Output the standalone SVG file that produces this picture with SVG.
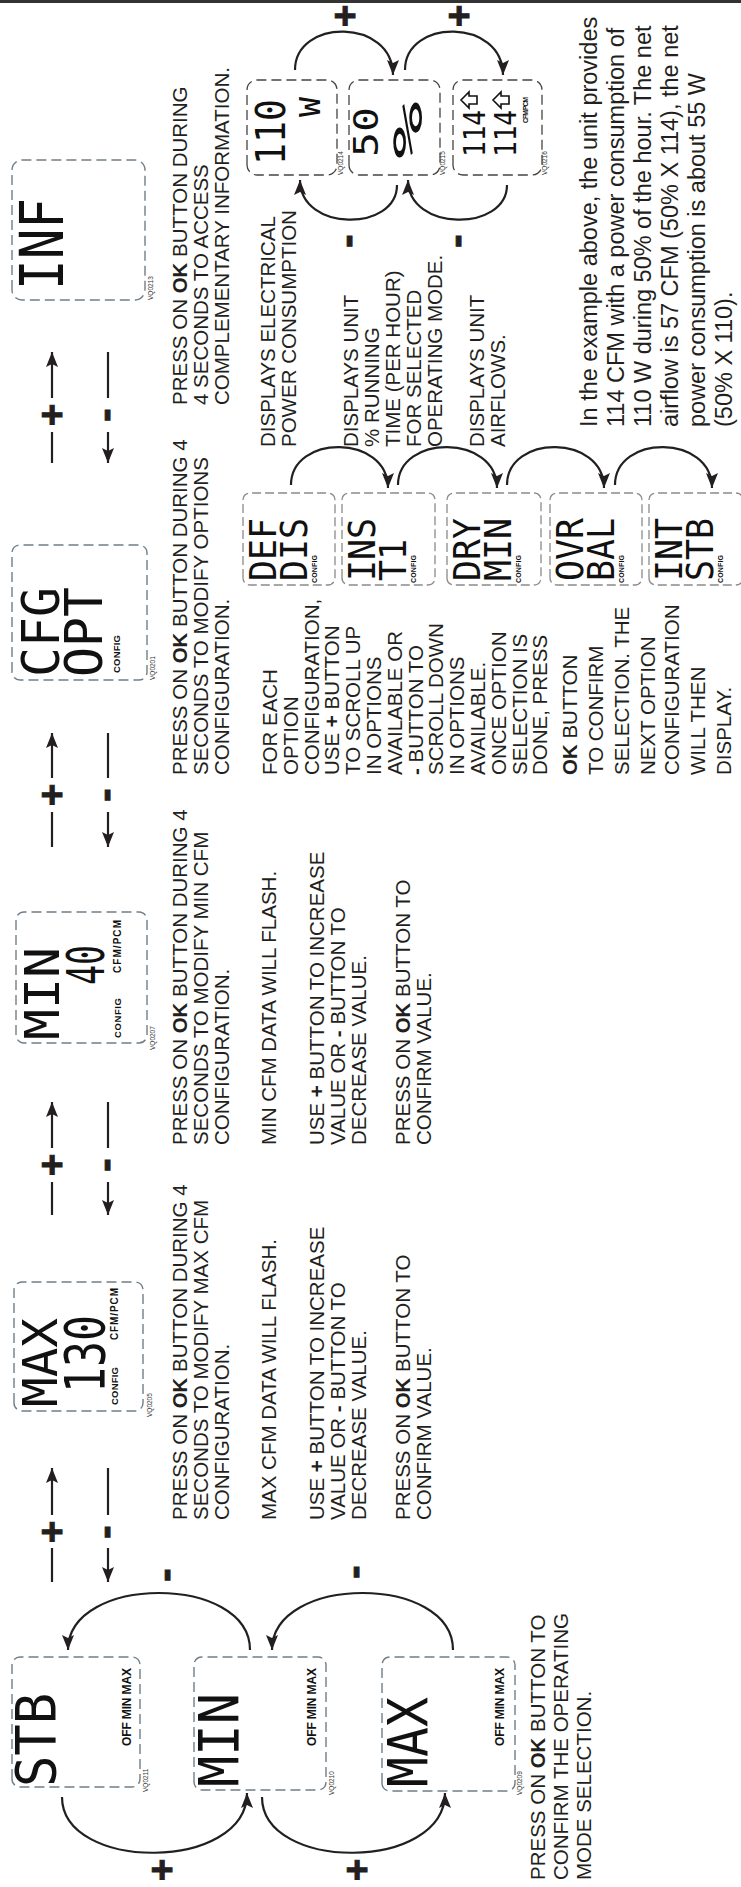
<svg xmlns="http://www.w3.org/2000/svg" width="741" height="1887" viewBox="0 0 741 1887">
<style>
.t{font-family:"Liberation Sans",Arial,sans-serif;font-size:20.5px;fill:#231f20}
.e{font-family:"Liberation Sans",Arial,sans-serif;font-size:23.5px;fill:#231f20}
.b{font-weight:bold}
.lcd{font-family:"DejaVu Sans Mono",monospace;fill:#111}
.sm{font-family:"Liberation Sans",Arial,sans-serif;font-weight:bold;fill:#111}
.vq{font-family:"Liberation Sans",Arial,sans-serif;font-size:6.5px;fill:#333}
.mb{fill:none;stroke:#6f7e88;stroke-width:1.4;stroke-dasharray:10 5}
.ib{fill:none;stroke:#444;stroke-width:1.3;stroke-dasharray:10 5}
.ob{fill:none;stroke:#8a8a8a;stroke-width:1.3;stroke-dasharray:9 4}
.pl{font-family:"Liberation Sans",Arial,sans-serif;font-weight:bold;font-size:38px;fill:#231f20;stroke:#231f20;stroke-width:1;text-anchor:middle}
.mi{font-family:"Liberation Sans",Arial,sans-serif;font-weight:bold;font-size:40px;fill:#231f20;stroke:#231f20;stroke-width:1;text-anchor:middle}
</style>
<defs>
<marker id="ah" markerUnits="userSpaceOnUse" markerWidth="16" markerHeight="12" refX="15" refY="6" orient="auto"><path d="M0,0 L15,6 L0,12 L3,6 Z" fill="#231f20"/></marker>
</defs>
<rect x="0" y="0" width="741" height="3" fill="#333"/>

<g id="connectors" fill="none" stroke="#231f20" stroke-width="2.2">
<path d="M52,1582 L52,1548 M52,1515 L52,1468" marker-end="url(#ah)"/>
<path d="M108,1468 L108,1515 M108,1548 L108,1582" marker-end="url(#ah)"/>
<path d="M52,1215 L52,1182 M52,1148 L52,1102" marker-end="url(#ah)"/>
<path d="M108,1102 L108,1148 M108,1182 L108,1215" marker-end="url(#ah)"/>
<path d="M52,847 L52,812 M52,778 L52,733" marker-end="url(#ah)"/>
<path d="M108,733 L108,778 M108,812 L108,847" marker-end="url(#ah)"/>
<path d="M52,463 L52,432 M52,398 L52,352" marker-end="url(#ah)"/>
<path d="M108,352 L108,398 M108,432 L108,463" marker-end="url(#ah)"/>
<path d="M250,1650 C250,1574 68,1574 68,1650" marker-end="url(#ah)"/>
<path d="M453,1650 C453,1574 272,1574 272,1650" marker-end="url(#ah)"/>
<path d="M62,1797 C62,1872 247,1872 247,1793" marker-end="url(#ah)"/>
<path d="M262,1797 C262,1872 445,1872 445,1793" marker-end="url(#ah)"/>
<path d="M295,70 C295,18 393,18 393,75" marker-end="url(#ah)"/>
<path d="M405,70 C405,18 503,18 503,75" marker-end="url(#ah)"/>
<path d="M397,185 C397,232 300,232 300,180" marker-end="url(#ah)"/>
<path d="M507,185 C507,232 408,232 408,180" marker-end="url(#ah)"/>
<path d="M291,485 C291,434 388,434 388,488" marker-end="url(#ah)"/>
<path d="M398,485 C398,434 497,434 497,488" marker-end="url(#ah)"/>
<path d="M507,485 C507,434 604,434 604,488" marker-end="url(#ah)"/>
<path d="M615,485 C615,434 712,434 712,488" marker-end="url(#ah)"/>
</g>

<g transform="translate(0 1887) rotate(-90)">
<g id="connector-labels">
<text class="pl" x="355" y="65">+</text><text class="mi" x="355" y="118">-</text>
<text class="pl" x="722" y="65">+</text><text class="mi" x="722" y="118">-</text>
<text class="pl" x="1092" y="65">+</text><text class="mi" x="1092" y="118">-</text>
<text class="pl" x="1472" y="65">+</text><text class="mi" x="1472" y="118">-</text>
<text class="pl" x="17" y="175">+</text><text class="pl" x="17" y="370">+</text>
<text class="mi" x="312" y="178">-</text><text class="mi" x="315" y="367">-</text>
<text class="pl" x="1871" y="358">+</text><text class="pl" x="1871" y="472">+</text>
<text class="mi" x="1646" y="360">-</text><text class="mi" x="1646" y="469">-</text>
</g>

<g id="mode-stb">
<rect class="mb" x="100" y="12" width="130" height="128" rx="8"/>
<text class="lcd" x="100" y="55" font-size="55" textLength="94" lengthAdjust="spacingAndGlyphs">STB</text>
<text class="sm" x="141" y="131" font-size="12" textLength="78">OFF MIN MAX</text>
<text class="vq" x="95" y="148">VQ0211</text>
</g>
<g id="mode-min">
<rect class="mb" x="97" y="194" width="133" height="132" rx="8"/>
<text class="lcd" x="100" y="238" font-size="55" textLength="94" lengthAdjust="spacingAndGlyphs">MIN</text>
<text class="sm" x="141" y="316" font-size="12" textLength="78">OFF MIN MAX</text>
<text class="vq" x="92" y="334">VQ0210</text>
</g>
<g id="mode-max">
<rect class="mb" x="96" y="382" width="134" height="133" rx="8"/>
<text class="lcd" x="100" y="427" font-size="55" textLength="90" lengthAdjust="spacingAndGlyphs">MAX</text>
<text class="sm" x="141" y="504" font-size="12" textLength="78">OFF MIN MAX</text>
<text class="vq" x="92" y="522">VQ0209</text>
</g>
<g id="mode-text">
<text class="t" x="7" y="545">PRESS ON <tspan class="b">OK</tspan> BUTTON TO</text>
<text class="t" x="7" y="568">CONFIRM THE OPERATING</text>
<text class="t" x="7" y="591">MODE SELECTION.</text>
</g>

<g id="config-max">
<rect class="mb" x="476" y="14" width="129" height="129" rx="8"/>
<text class="lcd" x="480" y="57" font-size="48" textLength="89" lengthAdjust="spacingAndGlyphs">MAX</text>
<text class="lcd" x="494" y="104" font-size="56" textLength="78" lengthAdjust="spacingAndGlyphs">130</text>
<text class="sm" x="482" y="118" font-size="9.5" textLength="38">CONFIG</text>
<text class="sm" x="547" y="118" font-size="10" textLength="52">CFM/PCM</text>
<text class="vq" x="470" y="152">VQ0205</text>
<text class="t" x="367" y="187">PRESS ON <tspan class="b">OK</tspan> BUTTON DURING 4</text>
<text class="t" x="367" y="208">SECONDS TO MODIFY MAX CFM</text>
<text class="t" x="367" y="229">CONFIGURATION.</text>
<text class="t" x="367" y="276">MAX CFM DATA WILL FLASH.</text>
<text class="t" x="367" y="324">USE <tspan class="b">+</tspan> BUTTON TO INCREASE</text>
<text class="t" x="367" y="345">VALUE OR <tspan class="b">-</tspan> BUTTON TO</text>
<text class="t" x="367" y="366">DECREASE VALUE.</text>
<text class="t" x="367" y="410">PRESS ON <tspan class="b">OK</tspan> BUTTON TO</text>
<text class="t" x="367" y="431">CONFIRM VALUE.</text>
</g>

<g id="config-min">
<rect class="mb" x="844" y="16" width="131" height="131" rx="8"/>
<text class="lcd" x="847" y="59" font-size="48" textLength="93" lengthAdjust="spacingAndGlyphs">MIN</text>
<text class="lcd" x="902" y="104" font-size="52" textLength="40" lengthAdjust="spacingAndGlyphs">40</text>
<text class="sm" x="849" y="121" font-size="9.5" textLength="40">CONFIG</text>
<text class="sm" x="914" y="121" font-size="10" textLength="53">CFM/PCM</text>
<text class="vq" x="837" y="155">VQ0207</text>
<text class="t" x="742" y="187">PRESS ON <tspan class="b">OK</tspan> BUTTON DURING 4</text>
<text class="t" x="742" y="208">SECONDS TO MODIFY MIN CFM</text>
<text class="t" x="742" y="229">CONFIGURATION.</text>
<text class="t" x="742" y="276">MIN CFM DATA WILL FLASH.</text>
<text class="t" x="742" y="324">USE <tspan class="b">+</tspan> BUTTON TO INCREASE</text>
<text class="t" x="742" y="345">VALUE OR <tspan class="b">-</tspan> BUTTON TO</text>
<text class="t" x="742" y="366">DECREASE VALUE.</text>
<text class="t" x="742" y="410">PRESS ON <tspan class="b">OK</tspan> BUTTON TO</text>
<text class="t" x="742" y="431">CONFIRM VALUE.</text>
</g>

<g id="config-options">
<rect class="mb" x="1207" y="12" width="135" height="135" rx="8"/>
<text class="lcd" x="1210" y="59" font-size="52" textLength="90" lengthAdjust="spacingAndGlyphs">CFG</text>
<text class="lcd" x="1210" y="102" font-size="52" textLength="90" lengthAdjust="spacingAndGlyphs">OPT</text>
<text class="sm" x="1214" y="120" font-size="9.5" textLength="38">CONFIG</text>
<text class="vq" x="1207" y="155">VQ0201</text>
<text class="t" x="1112" y="187">PRESS ON <tspan class="b">OK</tspan> BUTTON DURING 4</text>
<text class="t" x="1112" y="208">SECONDS TO MODIFY OPTIONS</text>
<text class="t" x="1112" y="229">CONFIGURATION.</text>
<text class="t" x="1112" y="277">FOR EACH</text>
<text class="t" x="1112" y="297.8">OPTION</text>
<text class="t" x="1112" y="318.6">CONFIGURATION,</text>
<text class="t" x="1112" y="339.4">USE <tspan class="b">+</tspan> BUTTON</text>
<text class="t" x="1112" y="360.2">TO SCROLL UP</text>
<text class="t" x="1112" y="381">IN OPTIONS</text>
<text class="t" x="1112" y="401.8">AVAILABLE OR</text>
<text class="t" x="1112" y="422.6"><tspan class="b">-</tspan> BUTTON TO</text>
<text class="t" x="1112" y="443.4">SCROLL DOWN</text>
<text class="t" x="1112" y="464.2">IN OPTIONS</text>
<text class="t" x="1112" y="485">AVAILABLE.</text>
<text class="t" x="1112" y="505.8">ONCE OPTION</text>
<text class="t" x="1112" y="526.6">SELECTION IS</text>
<text class="t" x="1112" y="547.4">DONE, PRESS</text>
<text class="t" x="1112" y="577"><tspan class="b">OK</tspan> BUTTON</text>
<text class="t" x="1112" y="603">TO CONFIRM</text>
<text class="t" x="1112" y="629">SELECTION. THE</text>
<text class="t" x="1112" y="655">NEXT OPTION</text>
<text class="t" x="1112" y="679">CONFIGURATION</text>
<text class="t" x="1112" y="705">WILL THEN</text>
<text class="t" x="1112" y="731">DISPLAY.</text>
</g>

<g id="opt-def">
<rect class="ob" x="1302" y="243" width="92" height="92" rx="7"/>
<text class="lcd" x="1306" y="276" font-size="38" textLength="63" lengthAdjust="spacingAndGlyphs">DEF</text>
<text class="lcd" x="1306" y="307" font-size="38" textLength="63" lengthAdjust="spacingAndGlyphs">DIS</text>
<text class="sm" x="1304" y="317" font-size="7" textLength="28">CONFIG</text>
</g>
<g id="opt-ins">
<rect class="ob" x="1302" y="342" width="92" height="93" rx="7"/>
<text class="lcd" x="1306" y="375" font-size="38" textLength="63" lengthAdjust="spacingAndGlyphs">INS</text>
<text class="lcd" x="1306" y="406" font-size="38" textLength="42" lengthAdjust="spacingAndGlyphs">T1</text>
<text class="sm" x="1304" y="416" font-size="7" textLength="28">CONFIG</text>
</g>
<g id="opt-dry">
<rect class="ob" x="1302" y="447" width="92" height="94" rx="7"/>
<text class="lcd" x="1306" y="480" font-size="38" textLength="63" lengthAdjust="spacingAndGlyphs">DRY</text>
<text class="lcd" x="1306" y="511" font-size="38" textLength="63" lengthAdjust="spacingAndGlyphs">MIN</text>
<text class="sm" x="1304" y="521" font-size="7" textLength="28">CONFIG</text>
</g>
<g id="opt-ovr">
<rect class="ob" x="1302" y="550" width="92" height="92" rx="7"/>
<text class="lcd" x="1306" y="583" font-size="38" textLength="63" lengthAdjust="spacingAndGlyphs">OVR</text>
<text class="lcd" x="1306" y="614" font-size="38" textLength="63" lengthAdjust="spacingAndGlyphs">BAL</text>
<text class="sm" x="1304" y="624" font-size="7" textLength="28">CONFIG</text>
</g>
<g id="opt-int">
<rect class="ob" x="1302" y="649" width="92" height="94" rx="7"/>
<text class="lcd" x="1306" y="682" font-size="38" textLength="63" lengthAdjust="spacingAndGlyphs">INT</text>
<text class="lcd" x="1306" y="713" font-size="38" textLength="63" lengthAdjust="spacingAndGlyphs">STB</text>
<text class="sm" x="1304" y="723" font-size="7" textLength="28">CONFIG</text>
</g>

<g id="info">
<rect class="mb" x="1587" y="12" width="140" height="133" rx="10"/>
<text class="lcd" x="1597" y="63" font-size="60" textLength="92" lengthAdjust="spacingAndGlyphs">INF</text>
<text class="vq" x="1587" y="153">VQ0213</text>
<text class="t" x="1482" y="187">PRESS ON <tspan class="b">OK</tspan> BUTTON DURING</text>
<text class="t" x="1482" y="208">4 SECONDS TO ACCESS</text>
<text class="t" x="1482" y="229">COMPLEMENTARY INFORMATION.</text>
<text class="t" x="1440" y="275">DISPLAYS ELECTRICAL</text>
<text class="t" x="1440" y="296">POWER CONSUMPTION</text>
<text class="t" x="1440" y="358">DISPLAYS UNIT</text>
<text class="t" x="1440" y="379">% RUNNING</text>
<text class="t" x="1440" y="400">TIME (PER HOUR)</text>
<text class="t" x="1440" y="421">FOR SELECTED</text>
<text class="t" x="1440" y="442">OPERATING MODE.</text>
<text class="t" x="1440" y="484">DISPLAYS UNIT</text>
<text class="t" x="1440" y="505">AIRFLOWS.</text>
</g>

<g id="info-power">
<rect class="ib" x="1712" y="247" width="95" height="90" rx="10"/>
<text class="lcd" x="1722" y="285" font-size="40" textLength="66" lengthAdjust="spacingAndGlyphs">110</text>
<text class="lcd" x="1770" y="320" font-size="28" textLength="20" lengthAdjust="spacingAndGlyphs">W</text>
<text class="vq" x="1712" y="343" font-size="5">VQ0214</text>
</g>
<g id="info-time">
<rect class="ib" x="1712" y="349" width="95" height="91" rx="10"/>
<text class="lcd" x="1730" y="378" font-size="34" textLength="50" lengthAdjust="spacingAndGlyphs">50</text>
<text class="lcd" x="1728" y="422" font-size="40" textLength="58" lengthAdjust="spacingAndGlyphs">%</text>
<text class="vq" x="1712" y="445" font-size="5">VQ0215</text>
</g>
<g id="info-airflow">
<rect class="ib" x="1712" y="453" width="95" height="89" rx="10"/>
<text class="lcd" x="1730" y="485" font-size="30" textLength="47" lengthAdjust="spacingAndGlyphs">114</text>
<text class="lcd" x="1730" y="516" font-size="30" textLength="47" lengthAdjust="spacingAndGlyphs">114</text>
<path d="M1787,461 L1795,469 L1791,469 L1791,477 L1783,477 L1783,469 L1779,469 Z M1787,493 L1795,501 L1791,501 L1791,509 L1783,509 L1783,501 L1779,501 Z" fill="none" stroke="#111" stroke-width="1.6"/>
<text class="sm" x="1764" y="528" font-size="6.5" textLength="26">CFM/PCM</text>
<text class="vq" x="1712" y="547" font-size="5">VQ0216</text>
</g>

<g id="example-text">
<text class="e" x="1460" y="597">In the example above, the unit provides</text>
<text class="e" x="1460" y="624">114 CFM with a power consumption of</text>
<text class="e" x="1460" y="651">110 W during 50% of the hour. The net</text>
<text class="e" x="1460" y="678">airflow is 57 CFM (50% X 114), the net</text>
<text class="e" x="1460" y="705">power consumption is about 55 W</text>
<text class="e" x="1460" y="732">(50% X 110).</text>
</g>
</g>
</svg>
